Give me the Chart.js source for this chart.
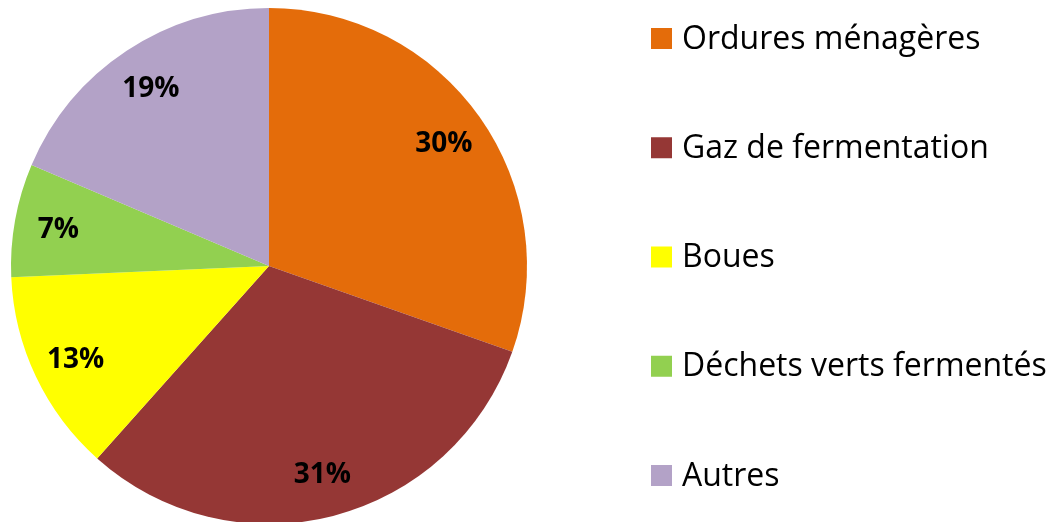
<!DOCTYPE html>
<html>
<head>
<meta charset="utf-8">
<script src="https://cdn.jsdelivr.net/npm/chart.js@4"></script>
<style>
  html, body { margin: 0; padding: 0; background: #fff; overflow: hidden; }
  #wrap { width: 1052px; height: 522px; overflow: hidden; }
  canvas { display: block; }
</style>
</head>
<body>
<div id="wrap"><canvas id="c" width="1052" height="526"></canvas></div>
<script>
const categories = ["Ordures ménagères", "Gaz de fermentation", "Boues", "Déchets verts fermentés", "Autres"];
const shares = [30.4, 31.2, 12.7, 7.1, 18.6];
const colors = ["#E46C0A", "#953735", "#FFFF00", "#92D050", "#B3A2C7"];

const pctLabels = {
  id: 'pctLabels',
  afterDatasetsDraw(chart) {
    const ctx = chart.ctx;
    const meta = chart.getDatasetMeta(0);
    const data = chart.data.datasets[0].data;
    const total = data.reduce((a, b) => a + b, 0);
    ctx.save();
    ctx.font = 'bold 28px "Open Sans"';
    ctx.fillStyle = '#000';
    ctx.textAlign = 'center';
    ctx.textBaseline = 'middle';
    meta.data.forEach((arc, i) => {
      const p = arc.getProps(['x', 'y', 'startAngle', 'endAngle', 'outerRadius'], true);
      const mid = (p.startAngle + p.endAngle) / 2;
      const r = p.outerRadius * 0.83;
      const x = p.x + Math.cos(mid) * r;
      const y = p.y + Math.sin(mid) * r;
      ctx.fillText(Math.round(data[i] / total * 100) + '%', x, y + 2);
    });
    ctx.restore();
  }
};

const sideLegend = {
  id: 'sideLegend',
  afterDraw(chart) {
    const ctx = chart.ctx;
    const labels = chart.data.labels;
    const bg = chart.data.datasets[0].backgroundColor;
    ctx.save();
    ctx.font = '32px "Open Sans"';
    ctx.textAlign = 'left';
    ctx.textBaseline = 'middle';
    labels.forEach((lab, i) => {
      const cy = 38.5 + i * 109.25;
      ctx.fillStyle = bg[i];
      ctx.fillRect(651, cy - 10.5, 21, 21);
      ctx.fillStyle = '#000';
      ctx.fillText(lab, 682, cy + 1);
    });
    ctx.restore();
  }
};

new Chart(document.getElementById('c'), {
  type: 'pie',
  data: {
    labels: categories,
    datasets: [{
      data: shares,
      backgroundColor: colors,
      borderWidth: 0,
      hoverOffset: 0
    }]
  },
  options: {
    responsive: false,
    animation: false,
    rotation: 0,
    layout: { padding: { left: 11, top: 8, right: 525, bottom: 2 } },
    plugins: {
      legend: { display: false },
      tooltip: { enabled: false }
    }
  },
  plugins: [pctLabels, sideLegend]
});
</script>
</body>
</html>
